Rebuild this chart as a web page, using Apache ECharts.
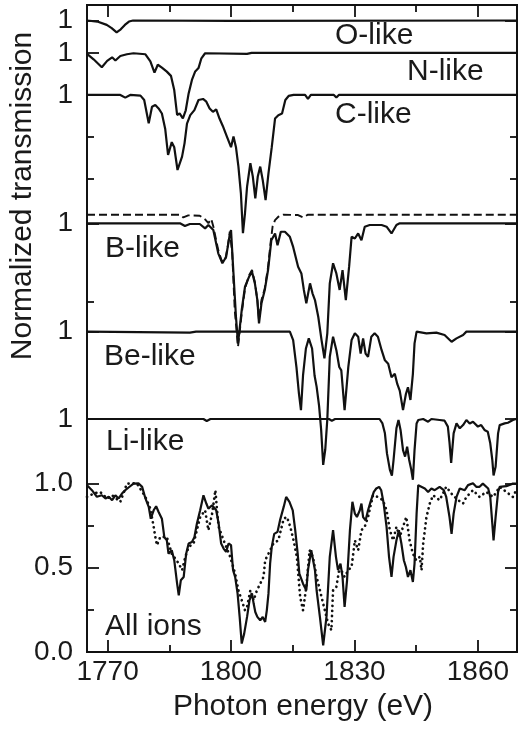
<!DOCTYPE html>
<html><head><meta charset="utf-8">
<script src="https://cdn.jsdelivr.net/npm/echarts@6/dist/echarts.min.js"></script>
<style>html,body{margin:0;padding:0;background:#fff;}#c{width:518px;height:729px;}</style>
</head><body><div id="c"></div>
<script>
// ---------------- DATA (photon energy eV, normalized transmission) ----------------
const xMajorTicks = [1770, 1800, 1830, 1860];
const xMinorTicks = [1785, 1815, 1845];
// vertical offsets of the stacked spectra (value 1 of each curve sits at offset+1)
const curveNames   = ['O-like', 'N-like', 'C-like', 'B-like', 'B-like (dashed)', 'Be-like', 'Li-like', 'All ions', 'All ions (dotted)'];
const curveOffsets = [2.743, 2.551, 2.302, 1.541, 1.592, 0.899, 0.381, 0, 0];
const yBottomLabels = [0, 0.5, 1.0];
const yExtraTicks = [0.25, 0.75, 2.075, 2.804, 3.053];

const oLike = [[1765,1.0],[1767.5,0.994],[1769.8,0.974],[1771,0.955],[1772.2,0.93],[1773.2,0.948],[1774.2,0.974],[1775.2,0.994],[1776.2,1.0],[1800,0.998],[1870,1.0]];

const nLike = [[1765,0.994],[1766.6,0.962],[1768.6,0.915],[1769.9,0.953],[1771.1,0.974],[1771.9,0.955],[1773.1,0.982],[1774.7,0.992],[1776.3,0.998],[1779.2,0.992],[1780.4,0.95],[1781.4,0.883],[1782.2,0.93],[1783.2,0.913],[1784.4,0.889],[1785.4,0.864],[1786.2,0.78],[1786.9,0.632],[1787.5,0.642],[1788.3,0.612],[1789.0,0.66],[1789.7,0.76],[1790.5,0.84],[1791.3,0.89],[1792.1,0.91],[1792.8,0.968],[1793.7,0.998],[1803.9,0.994],[1805,1.0],[1870,1.0]];

const cLike = [[1765,1.0],[1773.1,1.0],[1774.3,0.984],[1775.5,1.0],[1778,0.996],[1778.9,0.97],[1780.0,0.832],[1780.8,0.93],[1781.6,0.94],[1782.4,0.92],[1783.2,0.89],[1784.0,0.80],[1784.7,0.644],[1785.6,0.72],[1786.2,0.69],[1787.0,0.555],[1788.1,0.634],[1788.7,0.713],[1789.3,0.83],[1790.1,0.88],[1791.1,0.91],[1792.1,0.97],[1793.2,0.976],[1794.0,0.96],[1794.8,0.92],[1795.6,0.90],[1796.4,0.915],[1797.2,0.86],[1798.0,0.816],[1799.0,0.753],[1800.0,0.69],[1800.6,0.753],[1801.2,0.69],[1801.8,0.575],[1802.4,0.417],[1802.9,0.18],[1803.4,0.30],[1803.9,0.456],[1804.7,0.595],[1805.3,0.516],[1805.9,0.387],[1806.5,0.516],[1807.1,0.575],[1807.7,0.496],[1808.4,0.377],[1809.1,0.535],[1809.9,0.69],[1810.7,0.86],[1811.5,0.88],[1812.4,0.89],[1813.2,0.97],[1814.0,0.994],[1815.2,1.0],[1818.0,1.0],[1818.7,0.976],[1819.4,1.0],[1825.0,1.0],[1825.6,0.985],[1826.2,1.0],[1870,1.0]];

const bLike = [[1765,1.0],[1787.6,1.0],[1788.8,0.984],[1790.0,0.996],[1792.4,0.996],[1793.7,0.97],[1794.5,0.99],[1795.7,0.96],[1796.9,0.822],[1797.9,0.763],[1798.8,0.80],[1799.6,0.92],[1800.0,0.96],[1800.5,0.743],[1801.2,0.446],[1801.7,0.288],[1802.6,0.486],[1803.4,0.624],[1804.4,0.684],[1805.1,0.713],[1805.8,0.644],[1806.4,0.545],[1806.8,0.407],[1807.4,0.526],[1808.2,0.605],[1809.0,0.723],[1809.8,0.90],[1810.7,0.94],[1811.3,0.87],[1812.1,0.95],[1813.1,0.95],[1814.3,0.92],[1815.1,0.86],[1816.3,0.743],[1817.1,0.703],[1817.7,0.605],[1818.3,0.526],[1819.2,0.644],[1819.8,0.585],[1820.4,0.545],[1821.2,0.446],[1822.0,0.308],[1822.7,0.20],[1823.4,0.348],[1824.0,0.644],[1824.8,0.763],[1825.6,0.703],[1826.4,0.605],[1827.1,0.723],[1827.9,0.545],[1828.7,0.743],[1829.3,0.92],[1830.1,0.91],[1830.9,0.94],[1831.7,0.90],[1832.5,0.98],[1833.7,0.99],[1836.6,0.99],[1837.8,0.98],[1839.0,0.94],[1840.2,0.99],[1841.0,1.0],[1870,1.0]];

const bLikeDashed = [[1765,1.0],[1787.6,1.0],[1788.4,0.984],[1789.6,0.996],[1792.4,0.994],[1793.7,0.972],[1794.5,0.95],[1795.2,0.975],[1795.7,0.93],[1796.9,0.79],[1797.7,0.73],[1798.5,0.72],[1799.2,0.81],[1799.7,0.90],[1800.3,0.77],[1800.9,0.435],[1801.7,0.217],[1802.6,0.415],[1803.4,0.563],[1804.4,0.642],[1805.1,0.672],[1805.8,0.60],[1806.4,0.494],[1806.8,0.375],[1807.4,0.494],[1808.2,0.563],[1809.0,0.69],[1809.6,0.83],[1810.1,0.93],[1810.7,0.968],[1811.5,0.988],[1812.7,1.0],[1816.3,0.998],[1817.5,0.984],[1818.7,1.0],[1870,1.0]];

const beLike = [[1765,1.0],[1790,0.994],[1791.5,1.0],[1814.3,1.0],[1815.1,0.95],[1815.9,0.79],[1816.5,0.634],[1817.0,0.535],[1817.5,0.74],[1818.2,0.90],[1818.9,0.96],[1819.7,0.90],[1820.3,0.74],[1820.8,0.674],[1821.4,0.56],[1821.9,0.42],[1822.4,0.21],[1822.9,0.30],[1823.4,0.48],[1824.0,0.85],[1824.8,0.97],[1825.6,0.89],[1826.3,0.79],[1826.8,0.77],[1827.6,0.535],[1828.5,0.79],[1829.3,0.95],[1830.1,0.99],[1830.9,0.97],[1831.5,0.87],[1832.1,0.96],[1832.7,0.87],[1833.3,0.85],[1833.7,0.91],[1834.1,0.97],[1834.9,0.99],[1835.7,0.97],[1836.6,0.89],[1837.4,0.83],[1838.2,0.81],[1839.0,0.73],[1839.8,0.75],[1840.4,0.69],[1841.0,0.65],[1841.8,0.535],[1842.5,0.63],[1843.0,0.67],[1843.6,0.595],[1844.2,0.75],[1844.6,0.93],[1845.1,1.0],[1847.5,0.99],[1849.9,0.994],[1851.9,0.98],[1853.6,0.94],[1854.8,0.96],[1856.4,0.98],[1857.2,1.0],[1870,1.0]];

const liLike = [[1765,1.0],[1793.3,1.0],[1794.1,0.988],[1795,1.0],[1823.8,1.0],[1824.5,0.99],[1825.3,1.0],[1836.1,1.0],[1836.8,0.974],[1837.4,0.915],[1837.9,0.796],[1838.6,0.70],[1839.1,0.665],[1839.5,0.757],[1840.2,0.945],[1840.7,0.994],[1841.2,0.935],[1841.8,0.816],[1842.3,0.777],[1842.8,0.836],[1843.3,0.757],[1843.8,0.70],[1844.2,0.64],[1844.6,0.816],[1845.1,0.974],[1845.5,0.994],[1846.7,1.0],[1847.9,0.984],[1848.7,1.0],[1850.7,0.994],[1851.9,0.99],[1852.7,0.955],[1853.1,0.86],[1853.5,0.74],[1854.1,0.915],[1854.8,0.974],[1855.6,0.945],[1856.4,0.964],[1857.2,0.994],[1858.0,0.974],[1858.8,0.984],[1860.0,0.955],[1860.8,0.964],[1861.6,0.935],[1862.4,0.925],[1863.0,0.856],[1863.5,0.757],[1863.8,0.665],[1864.3,0.717],[1864.9,0.915],[1865.3,0.964],[1866.5,0.974],[1867.3,0.978],[1868.5,0.994],[1869.3,1.0],[1870,1.0]];

const allIons = [[1765.0,0.989],[1766.2,0.959],[1767.4,0.92],[1768.6,0.929],[1769.5,0.91],[1770.3,0.92],[1771.1,0.90],[1771.9,0.929],[1772.7,0.91],[1773.5,0.939],[1774.3,0.959],[1775.1,0.975],[1776.3,0.998],[1777.5,1.0],[1778.4,0.979],[1779.2,0.91],[1780.0,0.86],[1780.5,0.79],[1781.2,0.84],[1781.8,0.864],[1782.4,0.83],[1783.2,0.79],[1783.8,0.68],[1784.4,0.662],[1784.8,0.583],[1785.6,0.603],[1786.2,0.544],[1786.9,0.405],[1787.3,0.336],[1787.8,0.425],[1788.5,0.445],[1789.1,0.583],[1789.7,0.643],[1790.5,0.652],[1791.1,0.68],[1791.7,0.76],[1792.5,0.84],[1793.3,0.929],[1794.0,0.88],[1794.5,0.85],[1795.4,0.87],[1795.8,0.88],[1796.4,0.84],[1797.0,0.76],[1797.6,0.643],[1798.2,0.613],[1798.8,0.593],[1799.4,0.643],[1800.0,0.633],[1800.5,0.485],[1801.0,0.445],[1801.6,0.346],[1802.1,0.208],[1802.6,0.05],[1803.2,0.109],[1803.9,0.208],[1804.5,0.307],[1805.1,0.346],[1805.5,0.287],[1805.9,0.237],[1806.4,0.208],[1807.1,0.188],[1807.7,0.208],[1808.3,0.178],[1808.7,0.247],[1809.1,0.346],[1809.5,0.524],[1809.9,0.623],[1810.5,0.70],[1811.3,0.712],[1811.9,0.78],[1812.8,0.86],[1813.4,0.919],[1814.2,0.89],[1815.0,0.84],[1815.6,0.722],[1816.2,0.583],[1816.6,0.465],[1817.5,0.405],[1818.3,0.366],[1818.7,0.485],[1819.5,0.603],[1820.4,0.485],[1820.8,0.366],[1821.6,0.208],[1822.4,0.04],[1823.2,0.208],[1824.0,0.564],[1824.8,0.722],[1825.5,0.564],[1826.0,0.485],[1826.6,0.524],[1827.1,0.445],[1827.6,0.267],[1828.2,0.425],[1828.9,0.722],[1829.5,0.89],[1830.1,0.82],[1830.6,0.80],[1831.3,0.84],[1831.7,0.88],[1832.1,0.80],[1832.7,0.78],[1833.3,0.84],[1833.9,0.89],[1834.7,0.949],[1835.3,0.969],[1836.0,0.979],[1836.5,0.959],[1837.1,0.88],[1837.8,0.742],[1838.4,0.564],[1839.0,0.445],[1839.5,0.564],[1840.2,0.662],[1840.8,0.722],[1841.4,0.643],[1842.0,0.544],[1842.5,0.504],[1843.0,0.445],[1843.6,0.485],[1844.2,0.415],[1844.6,0.524],[1845.1,0.82],[1845.5,0.989],[1845.9,0.998],[1847.1,0.969],[1847.9,0.949],[1848.7,0.969],[1849.5,0.959],[1850.7,0.979],[1851.7,0.959],[1852.3,0.919],[1853.1,0.80],[1853.6,0.70],[1854.1,0.82],[1854.8,0.919],[1855.6,0.969],[1856.8,0.959],[1857.6,0.989],[1858.8,1.0],[1859.6,0.979],[1860.4,0.979],[1861.2,0.998],[1862.5,0.969],[1863.0,0.919],[1863.5,0.761],[1863.8,0.662],[1864.3,0.80],[1864.9,0.949],[1865.3,0.979],[1866.9,0.983],[1868.5,0.998],[1870,0.998]];

const allIonsDotted = [[1765.0,0.919],[1766.6,0.939],[1768.2,0.949],[1769.9,0.91],[1771.1,0.929],[1773.1,0.89],[1774.7,0.998],[1777.1,1.0],[1779.2,0.919],[1780.4,0.85],[1781.2,0.742],[1781.6,0.682],[1782.0,0.633],[1782.8,0.682],[1784.4,0.682],[1785.6,0.583],[1787.3,0.524],[1788.1,0.485],[1788.9,0.564],[1789.7,0.623],[1790.9,0.643],[1792.5,0.80],[1793.7,0.84],[1794.1,0.78],[1794.5,0.722],[1795.4,0.82],[1796.2,0.959],[1796.6,0.84],[1797.0,0.742],[1798.2,0.662],[1799.8,0.564],[1801.0,0.465],[1801.8,0.366],[1802.6,0.307],[1803.4,0.247],[1803.9,0.267],[1804.7,0.366],[1805.5,0.307],[1806.3,0.366],[1807.1,0.405],[1807.9,0.445],[1808.3,0.544],[1809.1,0.583],[1810.3,0.643],[1811.5,0.662],[1812.8,0.79],[1813.6,0.80],[1814.4,0.742],[1815.2,0.662],[1816.0,0.564],[1816.8,0.326],[1817.5,0.247],[1818.3,0.386],[1819.1,0.603],[1819.9,0.564],[1820.8,0.445],[1821.6,0.366],[1822.8,0.247],[1823.6,0.168],[1824.4,0.129],[1824.8,0.366],[1825.6,0.386],[1826.4,0.504],[1827.6,0.445],[1828.5,0.485],[1829.3,0.504],[1830.1,0.662],[1830.9,0.603],[1831.7,0.722],[1832.5,0.742],[1833.3,0.80],[1834.5,0.929],[1835.7,0.919],[1836.9,0.90],[1837.8,0.84],[1838.6,0.722],[1839.4,0.662],[1840.2,0.742],[1841.0,0.682],[1841.8,0.742],[1842.6,0.80],[1843.4,0.662],[1844.2,0.583],[1845.0,0.544],[1845.9,0.564],[1846.3,0.485],[1846.7,0.643],[1847.5,0.80],[1848.3,0.88],[1849.1,0.929],[1850.7,0.90],[1852.3,0.979],[1853.9,0.929],[1855.2,0.90],[1856.4,0.88],[1857.2,0.919],[1858.8,0.959],[1860.4,0.919],[1862.0,0.949],[1863.7,0.919],[1865.3,0.979],[1866.9,0.949],[1868.5,0.919],[1869.3,0.959]];

// ---------------- CHART ----------------
const curveData = [oLike, nLike, cLike, bLike, bLikeDashed, beLike, liLike, allIons, allIonsDotted];
const INK = '#111';
const FONT = '"Liberation Sans", Arial, Helvetica, sans-serif';
const X_MIN = 1765, X_MAX = 1869.5, Y_MIN = 0, Y_MAX = 3.835;

// labelled "1" positions of each stacked curve (except the dashed duplicate)
const oneLevels = [0,1,2,3,5,6].map(i => curveOffsets[i] + 1);
const yLabelValues = yBottomLabels.concat(oneLevels);
const yMajorTicks = yLabelValues.slice();

function yLabelFmt(v) {
  for (const b of yBottomLabels) if (Math.abs(v - b) < 1e-6) return b.toFixed(1);
  return '1';
}

function xAxisDef(pos, ticks, len, labels) {
  return {
    type: 'value', gridIndex: 0, position: pos, min: X_MIN, max: X_MAX,
    axisLine: { show: true, onZero: false, lineStyle: { color: INK, width: 1.8 } },
    axisTick: { show: true, inside: true, length: len, customValues: ticks, lineStyle: { color: INK, width: 1.8 } },
    axisLabel: labels ? { show: true, customValues: ticks, formatter: v => String(Math.round(v)), fontSize: 28, fontFamily: FONT, color: '#1a1a1a', margin: 6 } : { show: false },
    splitLine: { show: false }
  };
}
function yAxisDef(pos, ticks, len, labels) {
  return {
    type: 'value', gridIndex: 0, position: pos, min: Y_MIN, max: Y_MAX,
    axisLine: { show: true, onZero: false, lineStyle: { color: INK, width: 1.8 } },
    axisTick: { show: true, inside: true, length: len, customValues: ticks, lineStyle: { color: INK, width: 1.8 } },
    axisLabel: labels ? { show: true, customValues: yLabelValues, formatter: yLabelFmt, fontSize: 28, fontFamily: FONT, color: '#1a1a1a', margin: 14 } : { show: false },
    splitLine: { show: false }
  };
}

const series = curveData.map((arr, i) => {
  const name = curveNames[i];
  let lineStyle = { color: INK, width: 2.2 };
  if (name === 'B-like (dashed)') lineStyle = { color: INK, width: 1.9, type: [8, 4] };
  if (name === 'All ions (dotted)') lineStyle = { color: INK, width: 2.7, type: [0.1, 5], cap: 'round' };
  return {
    name, type: 'line', xAxisIndex: 0, yAxisIndex: 0,
    data: arr.map(p => [p[0], p[1] + curveOffsets[i]]),
    showSymbol: false, symbol: 'none', lineStyle, clip: true, z: 3
  };
});

const labelTexts = [
  { t: 'O-like', x: 335, y: 36 },
  { t: 'N-like', x: 407, y: 72 },
  { t: 'C-like', x: 335, y: 115 },
  { t: 'B-like', x: 105, y: 249 },
  { t: 'Be-like', x: 104, y: 357 },
  { t: 'Li-like', x: 106, y: 442 },
  { t: 'All ions', x: 105, y: 627 }
];
const graphics = labelTexts.map(l => ({
  type: 'text', x: l.x, y: l.y, z: 10,
  style: { text: l.t, fontSize: 30, fontFamily: FONT, fill: '#1a1a1a', align: 'left', verticalAlign: 'middle' }
}));
graphics.push({ type: 'text', x: 303, y: 707, z: 10,
  style: { text: 'Photon energy (eV)', fontSize: 30, fontFamily: FONT, fill: '#1a1a1a', align: 'center', verticalAlign: 'middle' } });
graphics.push({ type: 'text', x: 23, y: 196, rotation: Math.PI / 2, z: 10,
  style: { text: 'Normalized transmission', fontSize: 30, fontFamily: FONT, fill: '#1a1a1a', align: 'center', verticalAlign: 'middle' } });

const chart = echarts.init(document.getElementById('c'), null, { renderer: 'canvas' });
chart.setOption({
  animation: false,
  backgroundColor: '#fff',
  grid: { left: 87, right: 1, top: 5, bottom: 77, containLabel: false },
  xAxis: [
    xAxisDef('bottom', xMajorTicks, 12, true),
    xAxisDef('bottom', xMinorTicks, 7, false),
    xAxisDef('top', xMajorTicks, 12, false),
    xAxisDef('top', xMinorTicks, 7, false)
  ],
  yAxis: [
    yAxisDef('left', yMajorTicks, 12, true),
    yAxisDef('left', yExtraTicks, 7, false),
    yAxisDef('right', yMajorTicks, 12, false),
    yAxisDef('right', yExtraTicks, 7, false)
  ],
  series,
  graphic: graphics
});
</script></body></html>
